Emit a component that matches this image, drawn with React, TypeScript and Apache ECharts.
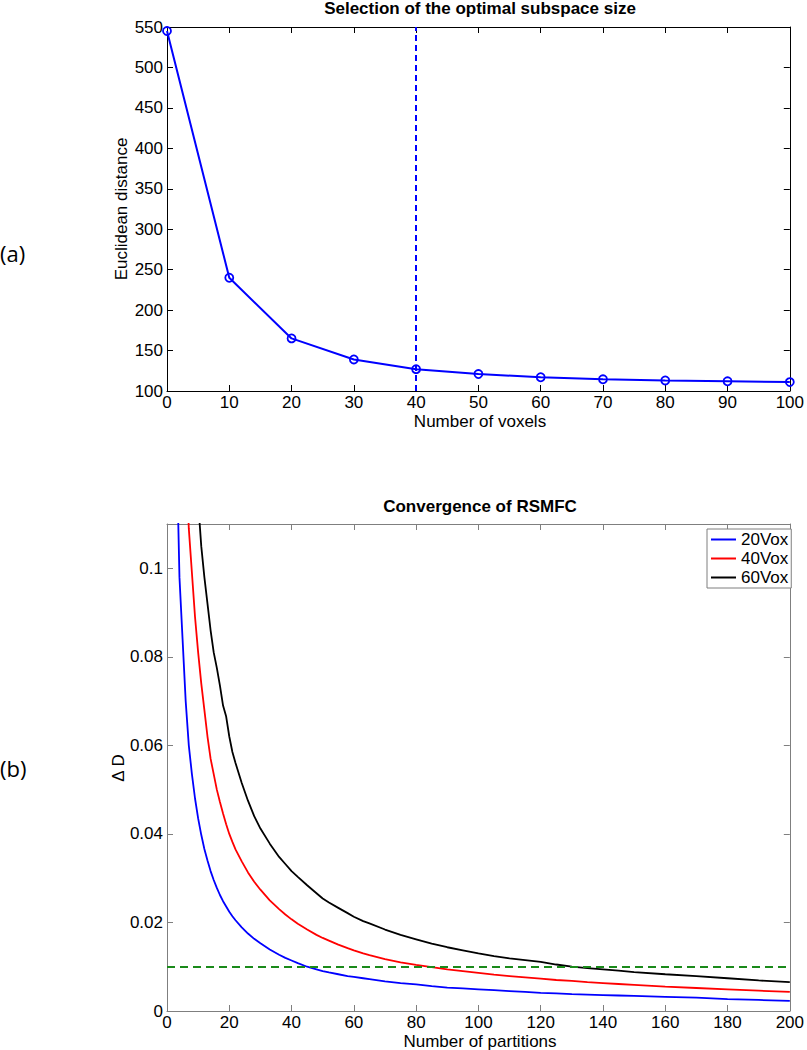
import React, { useEffect, useRef } from "react";
import * as echarts from "echarts";

// ---- Panel (a): Selection of the optimal subspace size ----
const voxelCounts = [0, 10, 20, 30, 40, 50, 60, 70, 80, 90, 100];
const euclideanDistance = [545, 240, 165, 139, 127, 121, 117, 114.5, 113, 112, 111];
const optimalVoxels = 40;

// ---- Panel (b): Convergence of RSMFC ----
const partitions = [
  2, 3, 4, 5, 6, 7, 8, 9, 10, 11, 12, 13, 14, 15, 16, 17, 18, 19, 20, 21, 22,
  24, 26, 28, 30, 33, 36, 38, 40, 42, 45, 48, 50, 52, 55, 58, 60, 63, 65,
  70, 75, 80, 85, 90, 95, 100, 105, 110, 115, 120, 125, 130, 135, 140, 145, 150,
  160, 170, 180, 190, 200,
];
const vox20 = [
  0.2, 0.13, 0.098, 0.084, 0.07, 0.06, 0.0535, 0.048, 0.0435, 0.0398, 0.0366, 0.034, 0.0316, 0.0296, 0.0278, 0.0262, 0.0248, 0.0236, 0.0224, 0.0214, 0.0205,
  0.0189, 0.0175, 0.0163, 0.0153, 0.0139, 0.0127, 0.012, 0.0114, 0.0108, 0.01, 0.0094, 0.009, 0.0087, 0.0083, 0.0079, 0.0077, 0.0074, 0.0072,
  0.0067, 0.0063, 0.006, 0.0056, 0.0053, 0.0051, 0.0049, 0.0047, 0.0045, 0.0043, 0.0041, 0.004, 0.0038, 0.0037, 0.0036, 0.0035, 0.0034,
  0.0032, 0.003, 0.0027, 0.0025, 0.0023,
];
const vox40 = [
  0.36, 0.25, 0.19, 0.155, 0.127, 0.109, 0.099, 0.089, 0.081, 0.074, 0.068, 0.062, 0.057, 0.0535, 0.05, 0.0472, 0.0446, 0.0422, 0.04, 0.0382, 0.0365,
  0.0338, 0.0313, 0.0292, 0.0274, 0.025, 0.023, 0.0218, 0.0207, 0.0197, 0.0184, 0.0172, 0.0165, 0.0159, 0.015, 0.0142, 0.0137, 0.013, 0.0126,
  0.0117, 0.011, 0.0104, 0.0099, 0.0094, 0.009, 0.0086, 0.0082, 0.0079, 0.0076, 0.0073, 0.007, 0.0068, 0.0065, 0.0063, 0.0061, 0.0059,
  0.0055, 0.0052, 0.0049, 0.0046, 0.0043,
];
const vox60 = [
  0.6, 0.42, 0.32, 0.26, 0.21, 0.175, 0.15, 0.13, 0.115, 0.105, 0.098, 0.092, 0.086, 0.081, 0.0775, 0.0735, 0.069, 0.0665, 0.062, 0.0585, 0.056,
  0.0515, 0.0475, 0.044, 0.0412, 0.0378, 0.0348, 0.0332, 0.0316, 0.0303, 0.0284, 0.0266, 0.0254, 0.0245, 0.0233, 0.0221, 0.0213, 0.0203, 0.0198,
  0.0184, 0.0172, 0.0162, 0.0152, 0.0144, 0.0137, 0.013, 0.0124, 0.0119, 0.0115, 0.0111, 0.0105, 0.01, 0.0097, 0.0094, 0.0091, 0.0088,
  0.0083, 0.0079, 0.0074, 0.0069, 0.0065,
];
const threshold = 0.01;
const seriesNames = ["20Vox", "40Vox", "60Vox"];

const FONT = "'Liberation Sans', Arial, Helvetica, sans-serif";
const FS = 17;

function boxAxes(kind: "x" | "y", gridIndex: number, min: number, max: number, interval: number, color: string, fmt?: (v: number) => string, hideMax?: boolean) {
  const main: any = {
    type: "value",
    gridIndex,
    min,
    max,
    interval,
    position: kind === "x" ? "bottom" : "left",
    axisLine: { show: true, onZero: false, lineStyle: { color, width: 1 } },
    axisTick: { show: true, inside: true, length: 6, lineStyle: { color } },
    axisLabel: {
      show: true,
      color: "#000",
      fontSize: FS,
      fontFamily: FONT,
      margin: kind === "x" ? 3 : 4,
      showMaxLabel: hideMax ? false : true,
      formatter: fmt,
    },
    splitLine: { show: false },
  };
  const mirror: any = {
    type: "value",
    gridIndex,
    min,
    max,
    interval,
    position: kind === "x" ? "top" : "right",
    axisLine: { show: true, onZero: false, lineStyle: { color, width: 1 } },
    axisTick: { show: true, inside: true, length: 6, lineStyle: { color } },
    axisLabel: { show: false },
    splitLine: { show: false },
  };
  return [main, mirror];
}

export default function App() {
  const ref = useRef<HTMLDivElement>(null);
  useEffect(() => {
    document.body.style.margin = "0";
    if (!ref.current) return;
    const chart = echarts.init(ref.current, undefined, { renderer: "svg" });

    const topX = boxAxes("x", 0, 0, 100, 10, "#000");
    const topY = boxAxes("y", 0, 100, 550, 50, "#000");
    const botX = boxAxes("x", 1, 0, 200, 20, "#7f7f7f");
    const botY = boxAxes(
      "y",
      1,
      0,
      0.11,
      0.02,
      "#7f7f7f",
      (v: number) => String(Math.round(v * 100) / 100),
      true
    );

    const text = (t: string, x: number, y: number, opts: any = {}) => ({
      type: "text",
      x,
      y,
      rotation: opts.rotation || 0,
      style: {
        text: t,
        fill: "#000",
        font: `${opts.bold ? "bold " : ""}${opts.size || FS}px ${opts.family || FONT}`,
        align: opts.align || "center",
        verticalAlign: "middle",
        textAlign: opts.align || "center",
        textVerticalAlign: "middle",
      },
    });

    chart.setOption({
      animation: false,
      backgroundColor: "#fff",
      textStyle: { fontFamily: FONT },
      grid: [
        { left: 167, top: 27, width: 626, height: 364 },
        { left: 167, top: 524, width: 626, height: 487 },
      ],
      xAxis: [topX[0], topX[1], botX[0], botX[1]],
      yAxis: [topY[0], topY[1], botY[0], botY[1]],
      legend: {
        data: seriesNames.map((n) => ({ name: n, icon: "rect" })),
        orient: "vertical",
        left: 707,
        top: 529,
        backgroundColor: "#fff",
        borderColor: "#7f7f7f",
        borderWidth: 1,
        borderRadius: 0,
        padding: [2, 3, 2, 4],
        itemGap: 2,
        itemWidth: 25,
        itemHeight: 2,
        textStyle: { fontSize: FS, color: "#000", fontFamily: FONT },
      },
      graphic: [
        text("Selection of the optimal subspace size", 480, 8, { bold: true }),
        text("Number of voxels", 480, 421),
        text("Euclidean distance", 121, 209, { rotation: Math.PI / 2 }),
        text("Convergence of RSMFC", 480, 506, { bold: true }),
        text("Number of partitions", 480, 1041),
        text("Δ D", 118, 768, { rotation: Math.PI / 2 }),
        text("(a)", 0, 253, { align: "left", size: 22, family: "'Open Sans', sans-serif" }),
        text("(b)", 0, 768, { align: "left", size: 22, family: "'Open Sans', sans-serif" }),
      ],
      series: [
        {
          type: "line",
          xAxisIndex: 0,
          yAxisIndex: 0,
          data: voxelCounts.map((x, i) => [x, euclideanDistance[i]]),
          symbol: "circle",
          symbolSize: 8,
          itemStyle: { color: "rgba(0,0,0,0)", borderColor: "#0000ff", borderWidth: 1.8 },
          lineStyle: { color: "#0000ff", width: 2 },
          markLine: {
            silent: true,
            symbol: "none",
            label: { show: false },
            lineStyle: { color: "#0000ff", type: [6, 4], width: 2 },
            data: [{ xAxis: optimalVoxels }],
          },
        },
        {
          name: seriesNames[0],
          type: "line",
          xAxisIndex: 2,
          yAxisIndex: 2,
          data: partitions.map((x, i) => [x, vox20[i]]),
          showSymbol: false,
          symbol: "none",
          clip: true,
          itemStyle: { color: "#0000ff" },
          lineStyle: { color: "#0000ff", width: 1.8 },
          markLine: {
            silent: true,
            symbol: "none",
            label: { show: false },
            lineStyle: { color: "#1a8a1a", type: [8, 5], width: 1.8 },
            data: [{ yAxis: threshold }],
          },
        },
        {
          name: seriesNames[1],
          type: "line",
          xAxisIndex: 2,
          yAxisIndex: 2,
          data: partitions.map((x, i) => [x, vox40[i]]),
          showSymbol: false,
          symbol: "none",
          clip: true,
          itemStyle: { color: "#ff0000" },
          lineStyle: { color: "#ff0000", width: 1.8 },
        },
        {
          name: seriesNames[2],
          type: "line",
          xAxisIndex: 2,
          yAxisIndex: 2,
          data: partitions.map((x, i) => [x, vox60[i]]),
          showSymbol: false,
          symbol: "none",
          clip: true,
          itemStyle: { color: "#000000" },
          lineStyle: { color: "#000000", width: 1.8 },
        },
      ],
    });
    return () => chart.dispose();
  }, []);
  return <div ref={ref} style={{ width: 807, height: 1050 }} />;
}
